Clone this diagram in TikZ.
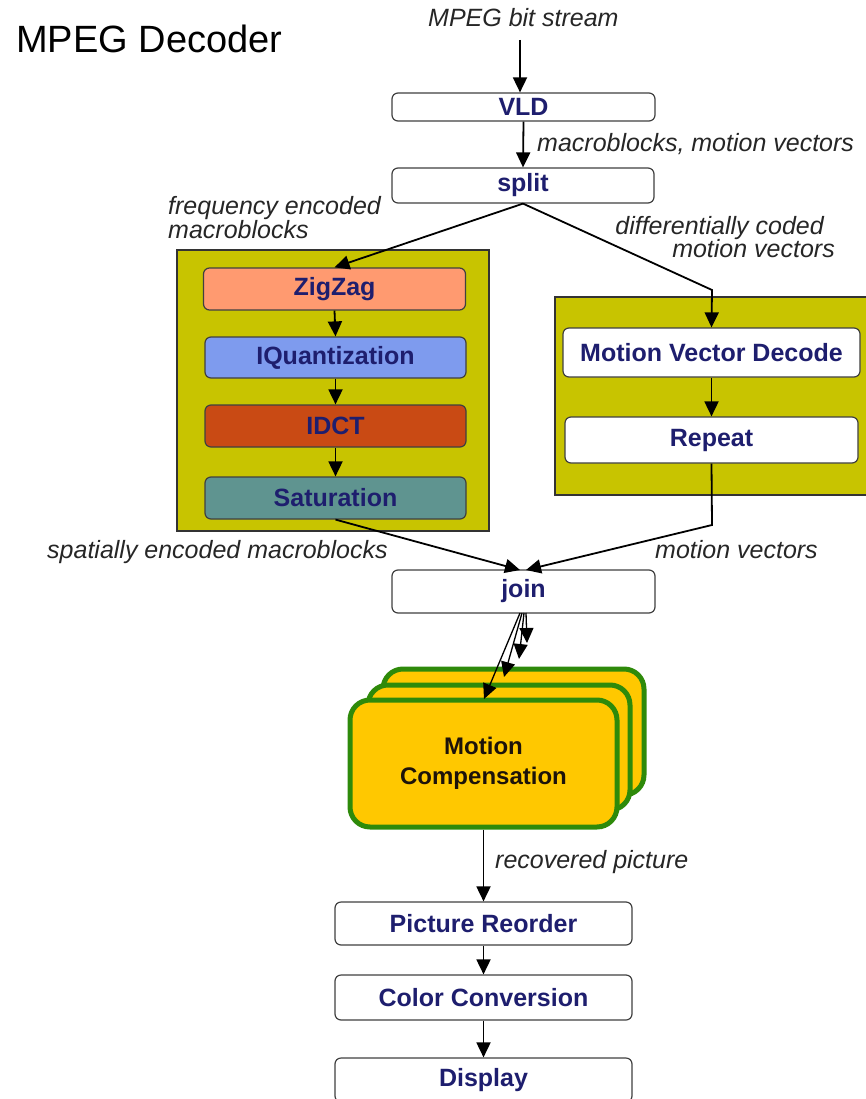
\documentclass[tikz,border=0pt]{standalone}
\usepackage{fontspec}
\setmainfont{Liberation Sans}
\usetikzlibrary{arrows.meta}

\definecolor{navy}{HTML}{1E1E6E}
\definecolor{olive}{HTML}{C8C400}
\definecolor{zigzag}{HTML}{FF9A70}
\definecolor{iquant}{HTML}{7E9BEE}
\definecolor{idct}{HTML}{C94A14}
\definecolor{satur}{HTML}{5F9490}
\definecolor{mcfill}{HTML}{FFC800}
\definecolor{mcedge}{HTML}{2E8A0A}
\definecolor{edge}{HTML}{404040}

\tikzset{
  stage/.style={draw=edge, line width=1.2pt, rounded corners=6pt, fill=white,
    inner sep=0pt, text=navy, font=\fontsize{25}{27}\selectfont\bfseries},
  group/.style={draw=black!80, line width=1.2pt, fill=olive},
  mcbox/.style={draw=mcedge, line width=5pt, rounded corners=20pt, fill=mcfill},
  lbl/.style={font=\fontsize{25}{21}\selectfont\itshape, text=black!85, inner sep=0pt},
  flow/.style={line width=1.8pt, -{Triangle[length=15pt,width=14pt]}},
}

\begin{document}
\begin{tikzpicture}[x=1pt,y=-1pt]
\useasboundingbox (0,0) rectangle (866,1099);
\clip (0,0) rectangle (866,1099);

% title
\node[anchor=base west, inner sep=0pt, font=\fontsize{38}{40}\selectfont] (title) at (16,53) {MPEG Decoder};

% group backgrounds
\draw[group] (177,250) rectangle (489,531);
\draw[group] (555,297) rectangle (872,495);

% main chain
\node[stage, minimum width=263pt, minimum height=28pt] (vld) at (523.5,107) {VLD};
\node[stage, minimum width=262pt, minimum height=35pt] (split) at (523,185.5) {split};

% spatial (block) path
\node[stage, fill=zigzag, minimum width=262pt, minimum height=42pt] (zz) at (334.5,289) {ZigZag};
\node[stage, fill=iquant, minimum width=261pt, minimum height=41pt] (iq) at (335.5,357.5) {IQuantization};
\node[stage, fill=idct, minimum width=261pt, minimum height=42pt] (idct) at (335.5,426) {IDCT};
\node[stage, fill=satur, minimum width=261pt, minimum height=42pt] (sat) at (335.5,498) {Saturation};

% motion vector path
\node[stage, minimum width=297pt, minimum height=49pt] (mvd) at (711.5,352.5) {Motion Vector Decode};
\node[stage, minimum width=293pt, minimum height=46pt] (rep) at (711.5,440) {Repeat};

\node[stage, minimum width=263pt, minimum height=43pt] (join) at (523.5,591.5) {join};

% replicated motion compensation filters
\draw[mcbox] (383,669) rectangle (644,795);
\draw[mcbox] (368,685) rectangle (630,810);
\node[mcbox, minimum width=267pt, minimum height=127pt, align=center, inner sep=0pt,
  text=black!85!brown, font=\fontsize{24}{30}\selectfont\bfseries] (mc) at (483.5,763.5) {Motion\\Compensation};

% output chain
\node[stage, minimum width=297pt, minimum height=43pt] (reord) at (483.5,923.5) {Picture Reorder};
\node[stage, minimum width=297pt, minimum height=45pt] (ccv) at (483.5,997.5) {Color Conversion};
\node[stage, minimum width=297pt, minimum height=44pt] (disp) at (483.5,1080) {Display};

% connectors
\coordinate (src) at (520,40);
\draw[flow] (src) -- (src |- vld.north);
\draw[flow] (vld.south) -- (split.south |- split.north);
\draw[flow] (split.south) -- (zz.north);
\coordinate (mvbend) at (712,290);
\draw[flow] (split.south) -- (mvbend) -- (mvd.north);
\draw[flow] (zz.south) -- (iq.north);
\draw[flow] (iq.south) -- (idct.north);
\draw[flow] (idct.south) -- (sat.north);
\draw[flow] (mvd.south) -- (rep.north);
\coordinate (joinL) at (520,570);
\coordinate (joinR) at (526,570);
\draw[flow] (sat.south) -- (joinL);
\coordinate (mvdown) at (712,525);
\draw[flow] (rep.south) -- (mvdown) -- (joinR);

% fan-out to the motion compensation copies
\coordinate (f1) at (527,643);
\coordinate (f2) at (519,659);
\coordinate (f3) at (504,677);
\coordinate (f4) at (484,699);
\coordinate (j1) at (526,613);
\coordinate (j2) at (524,613);
\coordinate (j3) at (522,613);
\coordinate (j4) at (520,613);
\draw[flow, line width=1.3pt] (j1) -- (f1);
\draw[flow, line width=1.3pt] (j2) -- (f2);
\draw[flow, line width=1.3pt] (j3) -- (f3);
\draw[flow, line width=1.3pt] (j4) -- (f4);

\draw[flow] (mc.south) -- (reord.north);
\draw[flow] (reord.south) -- (ccv.north);
\draw[flow] (ccv.south) -- (disp.north);

% edge labels
\node[lbl, anchor=base west] (lsrc) at (428,27) {MPEG bit stream};
\node[lbl, anchor=base west] (lmb) at (537,152) {macroblocks, motion vectors};
\node[lbl, anchor=base west, align=left] (lfreq) at (168,239) {frequency encoded\\macroblocks};
\node[lbl, anchor=base east] (ldiff1) at (824,235) {differentially coded};
\node[lbl, anchor=base east] (ldiff2) at (835,258) {motion vectors};
\node[lbl, anchor=base west] (lspat) at (47,558) {spatially encoded macroblocks};
\node[lbl, anchor=base west] (lmv) at (655,558) {motion vectors};
\node[lbl, anchor=base west] (lrec) at (495,868) {recovered picture};
\end{tikzpicture}
\end{document}
